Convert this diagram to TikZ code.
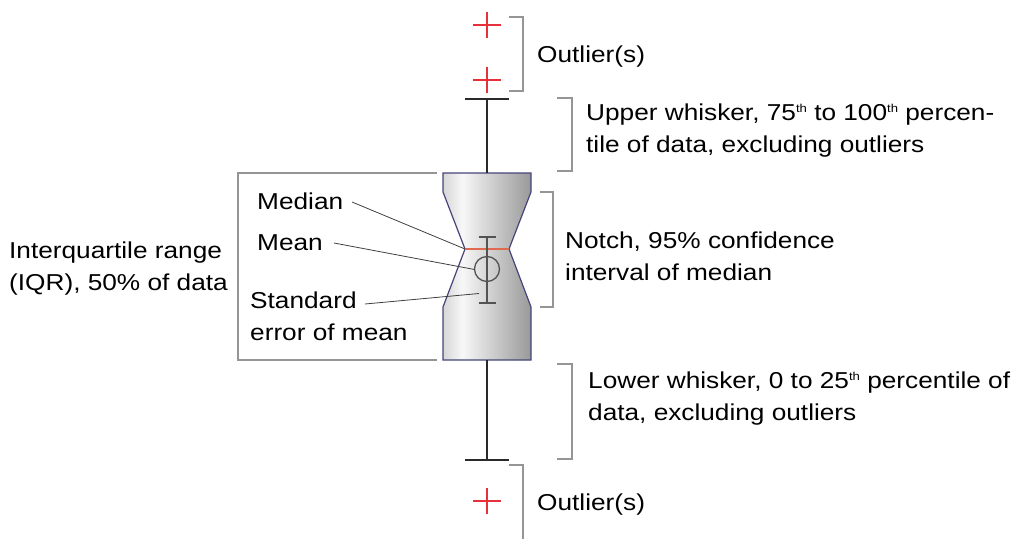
\documentclass[tikz,border=0pt]{standalone}
\usepackage{fontspec}
\setmainfont[FakeStretch=1.14]{Liberation Sans}
\usetikzlibrary{calc}
\definecolor{boxedge}{HTML}{45457A}
\definecolor{outred}{HTML}{E8303A}
\definecolor{medred}{HTML}{E06A50}
\definecolor{brgray}{HTML}{959595}
\definecolor{leadgray}{HTML}{404040}
\definecolor{wgray}{HTML}{2A2A2A}
\newcommand\supth[1]{\raisebox{8pt}{\fontsize{11.5}{11.5}\selectfont #1}}
\pgfdeclarehorizontalshading{boxshade}{100bp}{color(0bp)=(black!16); color(25bp)=(black!16); color(36bp)=(black!3); color(75bp)=(black!40); color(100bp)=(black!40)}
\tikzset{
  lbl/.style={anchor=base west, inner sep=0pt, font=\fontsize{23}{32}\selectfont, text=black},
  bracket/.style={draw=brgray, line width=1.3pt},
  leader/.style={draw=leadgray, line width=0.8pt},
  whisk/.style={draw=wgray, line width=1.6pt},
  outcross/.style={draw=outred, line width=1.1pt},
}
\begin{document}
\begin{tikzpicture}[x=1pt,y=-1pt]
\useasboundingbox (0,0) rectangle (1022,538);
% box
\coordinate (nl) at (465,249);
\coordinate (nr) at (509,249);
\draw[boxedge, line width=1.2pt, shading=boxshade]
  (443,173) -- (531,173) -- (531,192) -- (nr) -- (531,307) -- (531,360)
  -- (443,360) -- (443,307) -- (nl) -- (443,192) -- cycle;
% whiskers
\coordinate (boxtop) at (487,173);
\coordinate (boxbot) at (487,360);
\coordinate (uw) at (487,99);
\coordinate (lw) at (487,460);
\draw[whisk] (boxtop) -- (uw);
\draw[whisk] (boxbot) -- (lw);
\draw[whisk] (465,99) -- (509,99);
\draw[whisk] (465,460) -- (509,460);
% median
\draw[medred, line width=1.4pt] (nl) -- (nr);
% mean and SE
\node[draw=leadgray!90, line width=1.3pt, circle, minimum size=25pt, inner sep=0pt] (mean) at (487,269) {};
\coordinate (setop) at (487,237);
\coordinate (sebot) at (487,303);
\draw[leadgray!90, line width=1.3pt] (setop) -- (sebot);
\draw[leadgray!90, line width=1.3pt] (478.5,237) -- (495.5,237);
\draw[leadgray!90, line width=1.3pt] (478.5,303) -- (495.5,303);
% outliers
\foreach \y in {25,80,501}{
  \draw[outcross] (473,\y) -- (501,\y);
  \draw[outcross] (487,\y-13) -- (487,\y+13);
}
% brackets
\draw[bracket] (509,17) -- (523,17) -- (523,91) -- (509,91);
\draw[bracket] (557,98) -- (572,98) -- (572,171) -- (557,171);
\draw[bracket] (540,192) -- (553,192) -- (553,307) -- (540,307);
\draw[bracket] (557,364) -- (572,364) -- (572,459) -- (557,459);
\draw[bracket] (509,465) -- (523,465) -- (523,540);
\draw[bracket] (437,173) -- (238,173) -- (238,360) -- (437,360);
% labels
\node[lbl] (out1) at (537,62) {Outlier(s)};
\node[lbl] (out2) at (537,510) {Outlier(s)};
\node[lbl] (up1) at (586,120) {Upper whisker, 75\supth{th} to 100\supth{th} percen-};
\node[lbl] (up2) at (586,152) {tile of data, excluding outliers};
\node[lbl] (no1) at (565,248) {Notch, 95\% confidence};
\node[lbl] (no2) at (565,280) {interval of median};
\node[lbl] (lo1) at (588,388) {Lower whisker, 0 to 25\supth{th} percentile of};
\node[lbl] (lo2) at (588,420) {data, excluding outliers};
\node[lbl] (iq1) at (9,258) {Interquartile range};
\node[lbl] (iq2) at (9,290) {(IQR), 50\% of data};
\node[lbl] (medtxt) at (257,209) {Median};
\node[lbl] (meantxt) at (257,250) {Mean};
\node[lbl] (setxt1) at (250,308) {Standard};
\node[lbl] (setxt2) at (250,340) {error of mean};
% leaders
\coordinate (medA) at (352,202);
\coordinate (meanA) at (334,243);
\coordinate (meanB) at (474.5,269.5);
\coordinate (seA) at (365,304);
\coordinate (seB) at (479,293.5);
\draw[leader] (medA) -- (nl);
\draw[leader] (meanA) -- (meanB);
\draw[leader] (seA) -- (seB);
\end{tikzpicture}
\end{document}
